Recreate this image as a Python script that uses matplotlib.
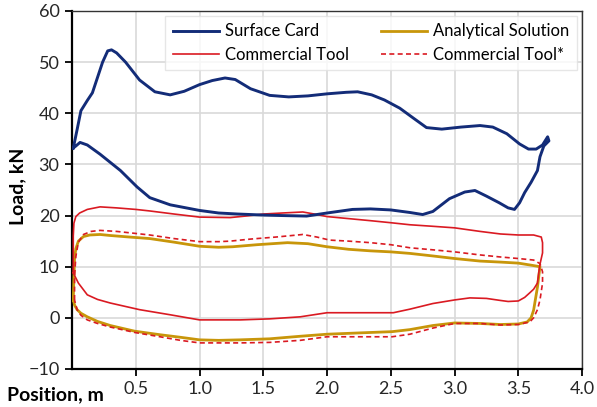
import matplotlib.pyplot as plt

# Surface card loop (position m, load kN)
card_x = [0.01, 0.04, 0.07, 0.12, 0.16, 0.20, 0.24, 0.28, 0.31, 0.35, 0.42, 0.53, 0.65, 0.77, 0.88,
          1.00, 1.10, 1.20, 1.28, 1.40, 1.55, 1.70, 1.85, 2.00, 2.15, 2.24, 2.35, 2.45, 2.57, 2.68,
          2.78, 2.90, 3.05, 3.20, 3.30, 3.41, 3.51, 3.58, 3.64, 3.69, 3.73, 3.74, 3.70, 3.67, 3.65,
          3.60, 3.55, 3.51, 3.47, 3.42, 3.35, 3.25, 3.16, 3.08, 2.96, 2.83, 2.75, 2.65, 2.50, 2.34,
          2.20, 2.00, 1.84, 1.65, 1.50, 1.30, 1.15, 1.00, 0.77, 0.61, 0.51, 0.38, 0.22, 0.12, 0.063,
          0.03, 0.01]
card_y = [33.2, 36.8, 40.5, 42.5, 44.0, 47.0, 50.0, 52.2, 52.4, 51.8, 50.0, 46.5, 44.2, 43.6, 44.3,
          45.6, 46.4, 46.9, 46.6, 44.8, 43.5, 43.2, 43.4, 43.8, 44.1, 44.2, 43.6, 42.6, 41.0, 39.0,
          37.2, 36.9, 37.3, 37.6, 37.3, 36.0, 34.0, 33.0, 33.0, 33.8, 35.4, 34.6, 33.6, 31.5, 28.8,
          26.5, 24.5, 22.5, 21.2, 21.5, 22.5, 23.8, 24.9, 24.6, 23.3, 20.8, 20.2, 20.6, 21.1, 21.3,
          21.2, 20.5, 19.9, 20.0, 20.1, 20.3, 20.5, 21.0, 22.1, 23.5, 25.6, 28.8, 32.0, 33.8, 34.3,
          33.6, 33.2]

# Analytical solution loop
anal_x = [0.01, 0.015, 0.02, 0.03, 0.05, 0.09, 0.14, 0.22, 0.30, 0.45, 0.61, 0.80, 1.00, 1.15, 1.26,
          1.45, 1.69, 1.85, 2.00, 2.17, 2.34, 2.50, 2.65, 2.83, 3.00, 3.20, 3.36, 3.50, 3.60, 3.67,
          3.66, 3.65, 3.63, 3.62, 3.60, 3.57, 3.50, 3.36, 3.20, 3.00, 2.83, 2.65, 2.51, 2.30, 2.00,
          1.79, 1.55, 1.32, 1.15, 1.00, 0.85, 0.69, 0.49, 0.30, 0.20, 0.12, 0.07, 0.04, 0.02, 0.01]
anal_y = [3.5, 8.0, 11.5, 13.5, 15.0, 15.9, 16.2, 16.3, 16.1, 15.8, 15.5, 14.8, 14.0, 13.8, 13.9,
          14.3, 14.7, 14.5, 13.9, 13.4, 13.1, 12.9, 12.6, 12.1, 11.6, 11.1, 10.9, 10.7, 10.3, 10.0,
          8.0, 6.0, 3.0, 1.5, 0.0, -0.8, -1.2, -1.3, -1.1, -1.0, -1.5, -2.3, -2.7, -2.9, -3.2,
          -3.6, -4.1, -4.3, -4.4, -4.3, -3.8, -3.3, -2.6, -1.5, -0.7, 0.2, 0.9, 1.6, 2.5, 3.5]

# Commercial tool loop
comm_x = [0.01, 0.01, 0.01, 0.015, 0.03, 0.06, 0.12, 0.22, 0.35, 0.50, 0.61, 0.80, 1.00, 1.24, 1.40,
          1.50, 1.65, 1.81, 1.90, 2.00, 2.17, 2.34, 2.50, 2.65, 2.83, 3.00, 3.20, 3.36, 3.50, 3.62,
          3.68, 3.69, 3.69, 3.67, 3.66, 3.65, 3.62, 3.59, 3.55, 3.50, 3.42, 3.36, 3.25, 3.12, 3.00,
          2.83, 2.65, 2.52, 2.30, 2.00, 1.79, 1.55, 1.32, 1.00, 0.77, 0.53, 0.30, 0.20, 0.12, 0.05, 0.01]
comm_y = [8.8, 12.0, 16.0, 18.5, 19.8, 20.5, 21.2, 21.7, 21.5, 21.2, 20.9, 20.3, 19.7, 19.6, 20.0,
          20.3, 20.5, 20.7, 20.3, 19.8, 19.4, 19.0, 18.6, 18.2, 17.9, 17.6, 16.9, 16.4, 16.2, 16.2,
          15.8, 14.7, 12.7, 10.5, 8.8, 6.8, 5.6, 4.9, 4.0, 3.3, 3.2, 3.4, 3.8, 3.9, 3.5,
          2.8, 1.7, 1.0, 1.0, 1.0, 0.2, -0.2, -0.4, -0.4, 0.6, 1.6, 2.9, 3.6, 4.5, 6.8, 8.8]

# Commercial tool* loop
comm2_x = [0.02, 0.02, 0.03, 0.05, 0.09, 0.15, 0.22, 0.35, 0.50, 0.61, 0.80, 1.00, 1.15, 1.24, 1.40,
           1.60, 1.81, 1.92, 2.02, 2.17, 2.34, 2.50, 2.65, 2.83, 3.00, 3.20, 3.36, 3.50, 3.62, 3.67,
           3.69, 3.69, 3.67, 3.65, 3.62, 3.59, 3.50, 3.36, 3.20, 3.00, 2.83, 2.65, 2.51, 2.30, 2.00,
           1.79, 1.55, 1.32, 1.00, 0.85, 0.69, 0.50, 0.30, 0.20, 0.12, 0.07, 0.04, 0.02]
comm2_y = [3.5, 8.0, 12.0, 14.8, 16.3, 16.9, 17.1, 16.9, 16.5, 16.2, 15.5, 14.9, 14.9, 15.0, 15.4,
           15.8, 16.3, 15.8, 15.2, 15.0, 14.7, 14.3, 13.7, 13.3, 12.9, 12.3, 11.9, 11.6, 11.3, 10.6,
           9.0, 6.8, 3.5, 1.6, 0.0, -0.8, -1.3, -1.4, -1.1, -1.1, -2.0, -3.2, -3.7, -3.7, -3.7,
           -4.4, -4.8, -4.9, -4.9, -4.4, -3.7, -2.9, -1.8, -1.1, -0.4, 0.5, 1.6, 3.5]

x_ticks = [0.5, 1.0, 1.5, 2.0, 2.5, 3.0, 3.5, 4.0]
y_ticks = [-10, 0, 10, 20, 30, 40, 50, 60]

plt.rcParams['font.family'] = ['Lato', 'DejaVu Sans']

fig = plt.figure(figsize=(5.97, 4.07), dpi=100)
ax = fig.add_axes([0.1206, 0.0934, 0.8544, 0.8796])

ax.plot(anal_x, anal_y, color='#C8960A', lw=2.0, label='Analytical Solution', zorder=3)
ax.plot(comm_x, comm_y, color='#DA1A22', lw=1.2, label='Commercial Tool', zorder=4)
ax.plot(comm2_x, comm2_y, color='#DA1A22', lw=1.2, ls=(0, (3, 2)), label='Commercial Tool*', zorder=4)
ax.plot(card_x, card_y, color='#132C78', lw=2.1, label='Surface Card', zorder=5)

ax.set_xlim(0, 4.0)
ax.set_ylim(-10, 60)
ax.set_xticks(x_ticks)
ax.set_xticklabels([f'{t:.1f}' for t in x_ticks])
ax.set_yticks(y_ticks)
ax.grid(True, color='#D9D9D9', lw=1.2)
ax.set_axisbelow(True)

for s in ['left', 'bottom']:
    ax.spines[s].set_linewidth(1.6)
    ax.spines[s].set_color('black')
for s in ['top', 'right']:
    ax.spines[s].set_linewidth(1.0)
    ax.spines[s].set_color('#333333')
ax.tick_params(direction='out', length=5, width=1.3, labelsize=13, colors='black',
               labelcolor='#262626', pad=4)

ax.set_xlabel('Position, m', fontsize=14, fontweight='bold')
ax.xaxis.label.set_va('center')
ax.xaxis.set_label_coords(-0.033, -0.072)
ax.set_ylabel('Load, kN', fontsize=14, fontweight='bold')
ax.yaxis.label.set_va('center')
ax.yaxis.set_label_coords(-0.106, 0.51)

h, l = ax.get_legend_handles_labels()
order = [3, 1, 0, 2]
leg = ax.legend([h[i] for i in order], [l[i] for i in order], ncol=2, loc='upper right',
                fontsize=12, frameon=True, fancybox=False, edgecolor='#E0E0E0',
                handlelength=2.8, handletextpad=0.35, columnspacing=1.9,
                borderaxespad=0.3, labelspacing=0.45, borderpad=0.45)
leg.get_frame().set_linewidth(1.0)

fig.savefig('out.png', dpi=100)
